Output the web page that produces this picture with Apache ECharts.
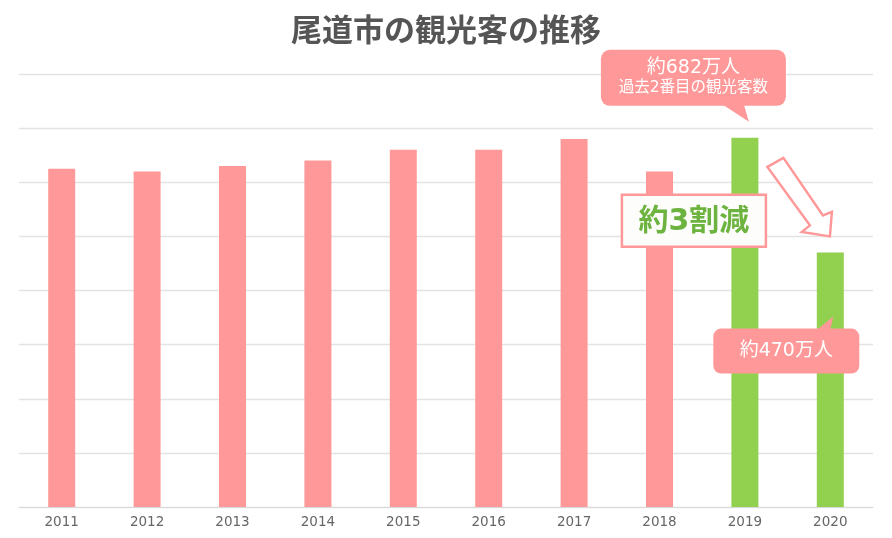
<!DOCTYPE html>
<html><head><meta charset="utf-8">
<script src="https://cdn.jsdelivr.net/npm/echarts@6/dist/echarts.min.js"></script>
<style>html,body{margin:0;padding:0;background:#fff}#c{width:892px;height:538px}</style>
</head><body><div id="c"></div>
<script>
const title = '尾道市の観光客の推移';
const years = ['2011','2012','2013','2014','2015','2016','2017','2018','2019','2020'];
const visitors = [625, 620, 630, 640, 660, 660, 680, 620, 682, 470]; // 万人
const highlightYears = ['2019','2020'];
const yMax = 800, yStep = 100;
const note2019 = ['約682万人', '過去2番目の観光客数'];
const note2020 = '約470万人';
const noteDrop = '約3割減';

const PINK = '#FF9999', GREEN = '#92D050';
const FONT = '"Noto Sans CJK JP","Noto Sans",sans-serif';
const MIX = '"DejaVu Sans","Noto Sans CJK JP",sans-serif';
const chart = echarts.init(document.getElementById('c'), null, {renderer:'canvas'});
chart.setOption({
  animation:false,
  backgroundColor:'#fff',
  title:{text:title,left:'center',top:9,textStyle:{fontFamily:FONT,fontSize:31,fontWeight:'bold',color:'#555'}},
  grid:{left:19,right:19,top:74,bottom:31},
  xAxis:{type:'category',data:years,
    axisLine:{lineStyle:{color:'#d9d9d9'}},axisTick:{lineStyle:{color:'#d9d9d9'},length:5},
    axisLabel:{color:'#666',fontSize:13.5,fontFamily:'"DejaVu Sans",sans-serif',margin:8}},
  yAxis:{type:'value',min:0,max:yMax,interval:yStep,axisLabel:{show:false},axisLine:{show:false},axisTick:{show:false},
    splitLine:{lineStyle:{color:'#e3e3e3',width:1.3}}},
  series:[{type:'bar',barWidth:27,
    data:visitors.map((v,i)=>({value:v,itemStyle:{color:highlightYears.includes(years[i])?GREEN:PINK}}))}]
});

const p19 = chart.convertToPixel({gridIndex:0},['2019',visitors[8]]);
const p20 = chart.convertToPixel({gridIndex:0},['2020',visitors[9]]);

// callout 1 anchored above 2019 bar
const t1 = [p19[0]+4, p19[1]-16];
const b1 = {x:t1[0]-148, y:t1[1]-72, w:185, h:56};
// callout 2 anchored near 2020 bar
const t2 = [p20[0]+3, p20[1]+64];
const b2 = {x:t2[0]-120, y:t2[1]+12, w:146, h:45};
// drop box
const bd = {x:p19[0]-123, y:p19[1]+57, w:144, h:52};
const ax = p19[0]+21, ay = p19[1];

chart.setOption({graphic:[
  {type:'rect',shape:{x:b1.x,y:b1.y,width:b1.w,height:b1.h,r:9},style:{fill:PINK},z:10},
  {type:'polygon',shape:{points:[[t1[0]-26,b1.y+b1.h-1],[t1[0]-5,b1.y+b1.h-1],t1]},style:{fill:PINK},z:10},
  {type:'text',x:b1.x+b1.w/2,y:b1.y+18,style:{text:note2019[0],fill:'#fff',font:'19px '+MIX,align:'center',verticalAlign:'middle'},z:11},
  {type:'text',x:b1.x+b1.w/2,y:b1.y+38,style:{text:note2019[1],fill:'#fff',font:'15.5px '+MIX,align:'center',verticalAlign:'middle'},z:11},

  {type:'rect',shape:{x:b2.x,y:b2.y,width:b2.w,height:b2.h,r:8},style:{fill:PINK},z:10},
  {type:'polygon',shape:{points:[[t2[0]-16,b2.y+1],[t2[0]-3,b2.y+1],t2]},style:{fill:PINK},z:10},
  {type:'text',x:b2.x+b2.w/2,y:b2.y+b2.h/2,style:{text:note2020,fill:'#fff',font:'19px '+MIX,align:'center',verticalAlign:'middle'},z:11},

  {type:'rect',shape:{x:bd.x,y:bd.y,width:bd.w,height:bd.h},style:{fill:'#fdfefb',stroke:PINK,lineWidth:2.5},z:10},
  {type:'text',x:bd.x+bd.w/2,y:bd.y+bd.h/2+1,style:{text:noteDrop,fill:'#6DB33F',font:'bold 30px '+MIX,align:'center',verticalAlign:'middle'},z:11},

  {type:'polygon',shape:{points:[
    [ax+1.5,ay+29],[ax+17.5,ay+20],[ax+57,ay+77.5],[ax+66,ay+74],
    [ax+64,ay+98.5],[ax+36,ay+94],[ax+44,ay+87.5]]},
    style:{fill:'#fff',stroke:PINK,lineWidth:2.5,lineJoin:'miter'},z:10}
]});
</script></body></html>
